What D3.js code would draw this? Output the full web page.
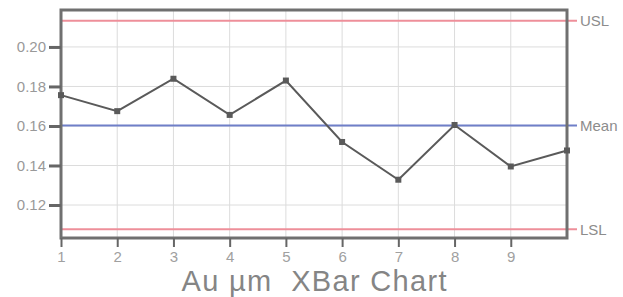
<!DOCTYPE html>
<html>
<head>
<meta charset="utf-8">
<script src="https://cdn.jsdelivr.net/npm/d3@7"></script>
<style>
  body { margin: 0; background: #fff; }
  svg text { font-family: 'Liberation Sans', Arial, sans-serif; }
</style>
</head>
<body>
<svg id="chart" width="623" height="297"></svg>
<script>
// subgroup numbers and their averages
const samples = [1, 2, 3, 4, 5, 6, 7, 8, 9, 10]
const xbar = [0.1756, 0.1675, 0.1839, 0.1656, 0.1830, 0.1519, 0.1328, 0.1605, 0.1395, 0.1476]
const xTicks = [1, 2, 3, 4, 5, 6, 7, 8, 9]
const yTicks = [0.12, 0.14, 0.16, 0.18, 0.20]
const limits = [
  { name: 'USL', value: 0.2133, color: '#ee8f9a' },
  { name: 'Mean', value: 0.1603, color: '#6f7fc8' },
  { name: 'LSL', value: 0.1077, color: '#ee8f9a' }
]
const title = 'Au µm\u00a0\u00a0XBar Chart'

const svg = d3.select('#chart')
const m = { left: 61, right: 567, top: 10, bottom: 238 }

const x = d3.scaleLinear().domain([1, 10]).range([m.left, m.right])
const y = d3.scaleLinear().domain([0.1033, 0.2187]).range([m.bottom, m.top])

// grid
svg.append('g')
  .selectAll('line')
  .data(xTicks.slice(1))
  .enter()
  .append('line')
  .attr('x1', d => x(d)).attr('x2', d => x(d))
  .attr('y1', m.top).attr('y2', m.bottom)
  .attr('stroke', '#dcdcdc').attr('stroke-width', 1)

svg.append('g')
  .selectAll('line')
  .data(yTicks)
  .enter()
  .append('line')
  .attr('x1', m.left).attr('x2', m.right)
  .attr('y1', d => y(d)).attr('y2', d => y(d))
  .attr('stroke', '#dcdcdc').attr('stroke-width', 1)

// limit lines + labels
const lim = svg.append('g')
lim.selectAll('line')
  .data(limits)
  .enter()
  .append('line')
  .attr('x1', m.left).attr('x2', m.right + 10)
  .attr('y1', d => y(d.value)).attr('y2', d => y(d.value))
  .attr('stroke', d => d.color).attr('stroke-width', 2)

lim.selectAll('text')
  .data(limits)
  .enter()
  .append('text')
  .attr('x', m.right + 13)
  .attr('y', d => y(d.value))
  .attr('dy', '0.36em')
  .attr('font-size', 15)
  .attr('fill', '#8c8c8c')
  .text(d => d.name)

// frame
svg.append('rect')
  .attr('x', m.left).attr('y', m.top)
  .attr('width', m.right - m.left).attr('height', m.bottom - m.top)
  .attr('fill', 'none').attr('stroke', '#707070').attr('stroke-width', 3)

// axes
const yAxis = svg.append('g')
  .attr('transform', `translate(${m.left},0)`)
  .call(d3.axisLeft(y).tickValues(yTicks).tickFormat(d3.format('.2f')).tickSize(12).tickPadding(3))
yAxis.select('.domain').remove()
yAxis.selectAll('line').attr('stroke', '#666').attr('stroke-width', 3)
yAxis.selectAll('text').attr('font-size', 15).attr('fill', '#999')
  .attr('font-family', "'Liberation Sans', Arial, sans-serif")

const xAxis = svg.append('g')
  .attr('transform', `translate(0,${m.bottom})`)
  .call(d3.axisBottom(x).tickValues(xTicks).tickSize(9).tickPadding(4))
xAxis.select('.domain').remove()
xAxis.selectAll('line').attr('stroke', '#666').attr('stroke-width', 2)
xAxis.selectAll('text').attr('font-size', 15).attr('fill', '#a0a0a0')
  .attr('font-family', "'Liberation Sans', Arial, sans-serif")

// data line
const pts = samples.map((s, i) => [s, xbar[i]])
svg.append('path')
  .datum(pts)
  .attr('fill', 'none')
  .attr('stroke', '#5a5a5a')
  .attr('stroke-width', 2)
  .attr('d', d3.line().x(d => x(d[0])).y(d => y(d[1])))

svg.append('g')
  .selectAll('rect')
  .data(pts)
  .enter()
  .append('rect')
  .attr('x', d => x(d[0]) - 3)
  .attr('y', d => y(d[1]) - 3)
  .attr('width', 6).attr('height', 6)
  .attr('fill', '#5a5a5a')

// title
svg.append('text')
  .attr('x', 314).attr('y', 291)
  .attr('text-anchor', 'middle')
  .attr('font-size', 29)
  .attr('textLength', 265)
  .attr('fill', '#858585')
  .text(title)
</script>
</body>
</html>
